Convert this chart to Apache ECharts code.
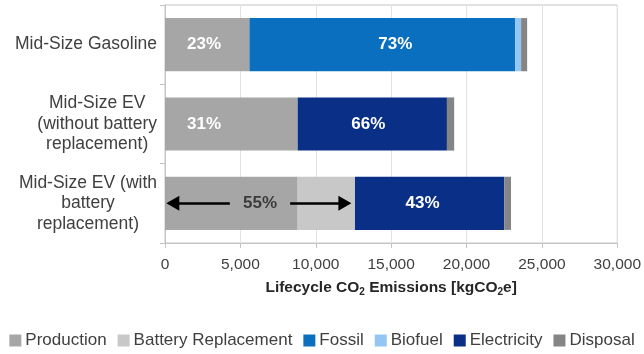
<!DOCTYPE html>
<html>
<head>
<meta charset="utf-8">
<script src="https://cdn.jsdelivr.net/npm/echarts@6/dist/echarts.min.js"></script>
<style>
  html, body { margin: 0; padding: 0; background: #fff; }
  #chart { width: 644px; height: 354px; }
</style>
</head>
<body>
<div id="chart"></div>
<script>
// Vehicle categories (top to bottom)
const categories = [
  'Mid-Size Gasoline',
  'Mid-Size EV\n(without battery\nreplacement)',
  'Mid-Size EV (with\nbattery\nreplacement)'
];

// Lifecycle CO2 emissions per stage, kgCO2e
const production          = [5600, 8800, 8800];
const batteryReplacement  = [0, 0, 3800];
const fossil              = [17620, 0, 0];
const biofuel             = [400, 0, 0];
const electricity         = [0, 9900, 9900];
const disposal            = [400, 480, 450];

// Share annotations printed on the bars
const productionShare  = ['23%', '31%', ''];
const fossilShare      = ['73%', '', ''];
const electricityShare = ['', '66%', '43%'];
const productionWithBatteryShare = '55%';

// Axis ticks
const xTicks = [0, 5000, 10000, 15000, 20000, 25000, 30000];

const FONT = '"Liberation Sans", Arial, sans-serif';
const colors = {
  'Production': '#a6a6a6',
  'Battery Replacement': '#c8c8c8',
  'Fossil': '#0b6fbf',
  'Biofuel': '#93c6f2',
  'Electricity': '#0a2f86',
  'Disposal': '#858585'
};

function stackSeries(name, values, shares, labelOpts) {
  return {
    name: name,
    type: 'bar',
    stack: 'total',
    barCategoryGap: '33%',
    itemStyle: { color: colors[name] },
    data: values.map(function (v, i) {
      const item = { value: v };
      if (shares && shares[i]) {
        item.label = Object.assign({
          show: true,
          formatter: shares[i],
          color: '#fff',
          fontWeight: 'bold',
          fontSize: 17,
          fontFamily: FONT
        }, (labelOpts && labelOpts[i]) || {});
      }
      return item;
    })
  };
}

// Third bar: production + battery replacement combined span
const combinedEnd = production[2] + batteryReplacement[2];
const combinedMid = combinedEnd / 2;
const labelGap = 2000;   // half-gap kept free around the share text
const headInset = 420;   // arrow head half-length in axis units

const chart = echarts.init(document.getElementById('chart'));
chart.setOption({
  animation: false,
  grid: {
    left: 165, right: 26, top: 5, bottom: 111,
    show: true, borderColor: '#c4c4c4', borderWidth: 1
  },
  legend: {
    data: ['Production', 'Battery Replacement', 'Fossil', 'Biofuel', 'Electricity', 'Disposal'],
    left: 'center',
    top: 327,
    icon: 'rect',
    itemWidth: 12,
    itemHeight: 12,
    itemGap: 11,
    textStyle: { fontFamily: FONT, fontSize: 17, color: '#404040', padding: [0, 0, 0, -1] }
  },
  xAxis: {
    type: 'value',
    min: 0, max: 30000, interval: 5000,
    axisLine: { show: true, lineStyle: { color: '#c4c4c4' } },
    axisTick: { show: true, length: 5, lineStyle: { color: '#c4c4c4' } },
    splitLine: { show: true, lineStyle: { color: '#e2e2e2' } },
    axisLabel: {
      margin: 14,
      fontFamily: FONT, fontSize: 15.5, color: '#404040',
      formatter: function (v) { return xTicks.indexOf(v) >= 0 ? v.toLocaleString('en-US') : ''; }
    },
    name: '{a|Lifecycle CO}{s|2}{a| Emissions [kgCO}{s|2}{a|e]}',
    nameLocation: 'middle',
    nameGap: 36,
    nameTextStyle: {
      rich: {
        a: { fontFamily: FONT, fontSize: 15.5, fontWeight: 'bold', color: '#262626' },
        s: { fontFamily: FONT, fontSize: 10, fontWeight: 'bold', color: '#262626', padding: [8, 0, 0, 0] }
      }
    }
  },
  yAxis: {
    type: 'category',
    inverse: true,
    data: categories,
    axisLine: { show: true, lineStyle: { color: '#c4c4c4' } },
    axisTick: { show: true, length: 5, lineStyle: { color: '#c4c4c4' } },
    axisLabel: {
      margin: 8,
      align: 'right',
      formatter: function (v) {
        return v.split('\n').map(function (l) { return '{c|' + l + '}'; }).join('\n');
      },
      rich: {
        c: { align: 'center', fontFamily: FONT, fontSize: 17.5, color: '#404040', lineHeight: 20.5 }
      }
    }
  },
  series: [
    stackSeries('Production', production, productionShare, [
      { position: 'insideLeft', distance: 22 },
      { position: 'insideLeft', distance: 22 },
      null
    ]),
    stackSeries('Battery Replacement', batteryReplacement),
    stackSeries('Fossil', fossil, fossilShare, [{ offset: [13, 0] }, null, null]),
    stackSeries('Biofuel', biofuel),
    stackSeries('Electricity', electricity, electricityShare, [null, { offset: [-4, 0] }, { offset: [-7, 0] }]),
    stackSeries('Disposal', disposal),
    {
      // Share text and span arrows for production + battery replacement
      name: 'span',
      type: 'scatter',
      symbolSize: 1,
      itemStyle: { color: 'transparent' },
      silent: true,
      z: 5,
      data: [[combinedMid, categories[2]]],
      label: {
        show: true,
        position: 'inside',
        formatter: productionWithBatteryShare,
        color: '#1f1f1f',
        fontWeight: 'bold',
        fontSize: 17,
        fontFamily: FONT
      },
      markLine: {
        silent: true,
        symbol: ['none', 'triangle'],
        symbolSize: [15, 13],
        label: { show: false },
        lineStyle: { color: '#000', width: 2.5, type: 'solid' },
        data: [
          [{ coord: [combinedMid - labelGap, categories[2]] }, { coord: [headInset + 100, categories[2]] }],
          [{ coord: [combinedMid + labelGap, categories[2]] }, { coord: [combinedEnd - headInset - 250, categories[2]] }]
        ]
      }
    }
  ]
});
</script>
</body>
</html>
